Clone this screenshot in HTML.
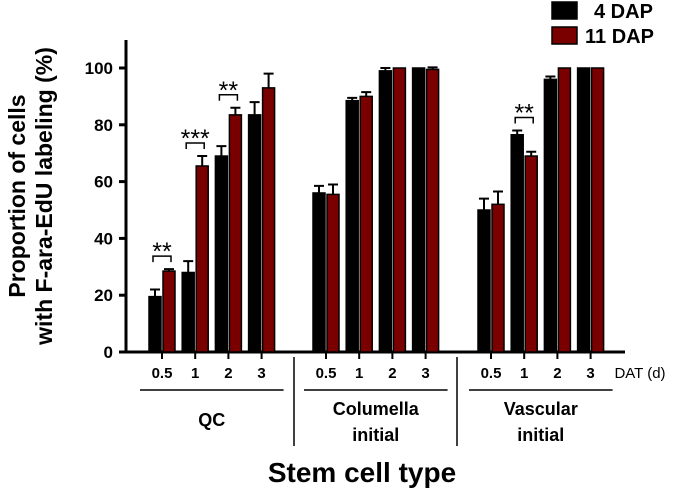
<!DOCTYPE html>
<html><head><meta charset="utf-8"><style>
body{margin:0;background:#fff;}
svg{display:block;font-family:"Liberation Sans",Arial,sans-serif;font-weight:bold;}
</style></head><body>
<svg id="chart" width="685" height="493" viewBox="0 0 685 493">
<g id="axes"></g><g id="bars"></g><g id="labels"></g>
</svg>
<script>
const groups = ["QC", "Columella initial", "Vascular initial"];
const dat = ["0.5", "1", "2", "3"];
const dap4 = [19.5, 28, 69, 83.5, 56, 88.5, 99, 100, 50, 76.5, 96, 100];
const dap4Err = [2.5, 4, 3.5, 4.5, 2.5, 1, 1, 0, 4, 1.5, 1, 0];
const dap11 = [28.5, 65.5, 83.5, 93, 55.5, 90, 100, 99.5, 52, 69, 100, 100];
const dap11Err = [0.7, 3.5, 2.5, 5, 3.5, 1.5, 0, 0.7, 4.5, 1.5, 0, 0];
const sigIndex = [0, 1, 2, 9];
const sigLabel = ["**", "***", "**", "**"];
const yTicks = [0, 20, 40, 60, 80, 100];

const NS = "http://www.w3.org/2000/svg";
const svg = document.getElementById("chart");
const axes = document.getElementById("axes"), barsG = document.getElementById("bars"), labG = document.getElementById("labels");
function el(tag, attrs, parent, text){const e=document.createElementNS(NS,tag);for(const k in attrs)e.setAttribute(k,attrs[k]);if(text!==undefined)e.textContent=text;parent.appendChild(e);return e;}
const y = v => 352 - v * 2.84;
const groupStart = [162, 326, 491];
const step = 33.2;
const xTick = i => groupStart[Math.floor(i/4)] + (i%4) * step;

let a = el("line",{x1:126,y1:40,x2:126,y2:353,stroke:"#000","stroke-width":3},axes);


a = el("line",{x1:125,y1:352,x2:625,y2:352,stroke:"#000","stroke-width":3},axes);


yTicks.forEach(t=>{
  let l=el("line",{x1:119,y1:y(t),x2:126,y2:y(t),stroke:"#000","stroke-width":3},axes);
  
  
  let tx=el("text",{x:113,y:y(t)+6,"text-anchor":"end","font-size":17},axes,String(t));
  
  
});
for(let i=0;i<12;i++){
  const x=xTick(i);
  let l=el("line",{x1:x,y1:352,x2:x,y2:359,stroke:"#000","stroke-width":2},axes);
  
  
  let tx=el("text",{x:x,y:378,"text-anchor":"middle","font-size":15},axes,dat[i%4]);
  
  
}
for(let i=0;i<12;i++){
  const x=xTick(i);
  [[dap4,dap4Err,x-13,"#000","bar-4dap"],[dap11,dap11Err,x+1,"#7a0000","bar-11dap"]].forEach(([vals,errs,bx,fill,name])=>{
    const v=vals[i], e=errs[i];
    let r=el("rect",{x:bx,y:y(v),width:12,height:352-y(v),fill:fill,stroke:"#000","stroke-width":1.5},barsG);
    
    
    if(e>0){
      const cx=bx+6;
      let g=el("path",{d:`M${cx},${y(v)} V${y(v+e)} M${cx-5},${y(v+e)} H${cx+5}`,stroke:"#000","stroke-width":2,fill:"none"},barsG);
      
      
    }
  });
}
sigIndex.forEach((i,k)=>{
  const x=xTick(i);
  const top=Math.max(dap4[i]+dap4Err[i],dap11[i]+dap11Err[i]);
  const by=y(top)-7;
  let p=el("path",{d:`M${x-9},${by} V${by-6} H${x+9} V${by}`,stroke:"#000","stroke-width":1.5,fill:"none"},barsG);
  
  
  let t=el("text",{x:x,y:by-2,"text-anchor":"middle","font-size":25,"font-weight":"normal"},barsG,sigLabel[k]);
  
  
});
const groupLines=[["QC"],["Columella","initial"],["Vascular","initial"]];
groupLines.forEach((lines,g)=>{
  const x0=groupStart[g]-22, x1=groupStart[g]+3*step+22;
  let l=el("line",{x1:x0,y1:390,x2:x1,y2:390,stroke:"#000","stroke-width":1.5},labG);
  
  
  const cx=groupStart[g]+1.5*step;
  lines.forEach((s,j)=>{
    let t=el("text",{x:cx,y:(lines.length===1?426:415+j*26),"text-anchor":"middle","font-size":18},labG,s);
    
    
  });
});
[294,457].forEach(x=>{
  let l=el("line",{x1:x,y1:357,x2:x,y2:446,stroke:"#000","stroke-width":1.5},labG);
  
  
});
let t=el("text",{x:640,y:378,"text-anchor":"middle","font-size":15,"font-weight":"normal"},labG,"DAT (d)");


t=el("text",{x:362,y:482,"text-anchor":"middle","font-size":28},labG,"Stem cell type");


t=el("text",{x:0,y:0,"text-anchor":"middle","font-size":23,transform:"translate(25,196) rotate(-90)"},labG,"Proportion of cells");


t=el("text",{x:0,y:0,"text-anchor":"middle","font-size":23,transform:"translate(52,196) rotate(-90)"},labG,"with F-ara-EdU labeling (%)");


let r=el("rect",{x:552,y:2,width:25,height:17,fill:"#000",stroke:"#000","stroke-width":1.5},labG);


t=el("text",{x:594,y:18,"font-size":20},labG,"4 DAP");


r=el("rect",{x:552,y:27,width:25,height:17,fill:"#7a0000",stroke:"#000","stroke-width":1.5},labG);


t=el("text",{x:585,y:43,"font-size":20},labG,"11 DAP");


</script>
</body></html>
